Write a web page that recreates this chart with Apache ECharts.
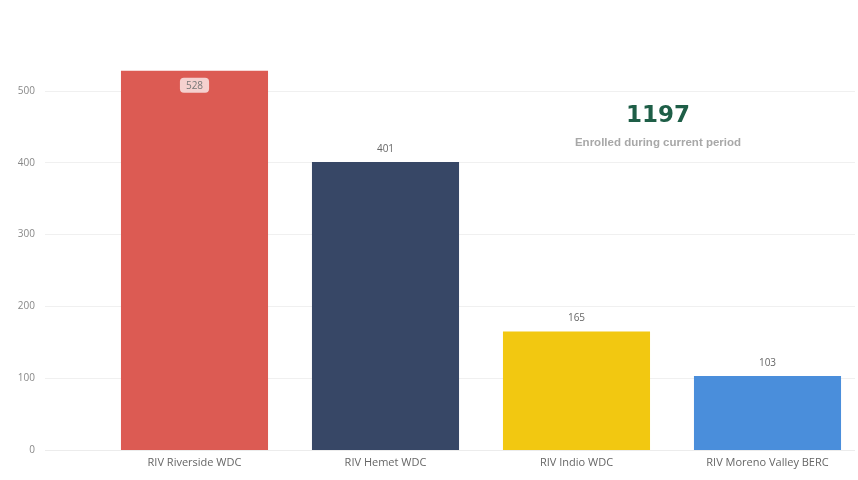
<!DOCTYPE html>
<html>
<head>
<meta charset="utf-8">
<script src="https://cdn.jsdelivr.net/npm/echarts@6/dist/echarts.min.js"></script>
<style>html,body{margin:0;padding:0;background:#fff;overflow:hidden;}#c{width:870px;height:480px;}</style>
</head>
<body>
<div id="c"></div>
<script>
const categories = ['RIV Riverside WDC', 'RIV Hemet WDC', 'RIV Indio WDC', 'RIV Moreno Valley BERC'];
const values = [528, 401, 165, 103];
const barColors = ['#DC5B53', '#374766', '#F2C811', '#4A8EDB'];
const yTicks = [0, 100, 200, 300, 400, 500];
const totalValue = 1197;
const totalLabel = 'Enrolled during current period';

const chart = echarts.init(document.getElementById('c'));
chart.setOption({
  animation: false,
  grid: [
    { left: 45, right: 15, top: 55, bottom: 30 },
    { left: 99, right: 7, top: 55, bottom: 30 }
  ],
  xAxis: [
    { type: 'value', gridIndex: 0, show: false, min: 0, max: 1 },
    {
      type: 'category', gridIndex: 1, data: categories,
      axisLine: { show: false }, axisTick: { show: false },
      axisLabel: { color: '#666', fontSize: 11, fontFamily: 'Open Sans', margin: 7 }
    }
  ],
  yAxis: [
    {
      type: 'value', gridIndex: 0, min: 0, max: 550, interval: 100,
      axisLine: { show: false }, axisTick: { show: false },
      axisLabel: {
        color: '#888', fontSize: 10, fontFamily: 'Open Sans', margin: 10,
        formatter: v => yTicks.indexOf(v) >= 0 ? String(v) : ''
      },
      splitLine: { lineStyle: { color: ['#ececec', '#f0f0f0', '#f0f0f0', '#f0f0f0', '#f0f0f0', '#f0f0f0', 'rgba(0,0,0,0)'] } }
    },
    { type: 'value', gridIndex: 1, min: 0, max: 550, show: false, splitLine: { show: false } }
  ],
  series: [{
    type: 'bar', xAxisIndex: 1, yAxisIndex: 1,
    barCategoryGap: '23%',
    data: values.map((v, i) => {
      const d = { value: v, itemStyle: { color: barColors[i] } };
      if (i === 0) {
        d.label = {
          position: 'insideTop', distance: 7,
          backgroundColor: 'rgba(255,255,255,0.72)', borderRadius: 4,
          padding: [3, 6, 2, 6], color: '#777'
        };
      }
      return d;
    }),
    label: {
      show: true, position: 'top', distance: 8,
      color: '#666', fontSize: 10, fontFamily: 'Open Sans'
    }
  }],
  graphic: [
    {
      type: 'text',
      style: {
        text: String(totalValue), x: 0, y: 0, align: 'center', verticalAlign: 'middle',
        fill: '#1E5E47', font: 'bold 23px "DejaVu Sans", sans-serif'
      },
      position: [658, 116]
    },
    {
      type: 'text',
      style: {
        text: totalLabel, x: 0, y: 0, align: 'center', verticalAlign: 'middle',
        fill: '#A8A8A8', font: 'bold 11.5px "Liberation Sans", Arial, sans-serif'
      },
      position: [658, 143]
    }
  ]
});
</script>
</body>
</html>
